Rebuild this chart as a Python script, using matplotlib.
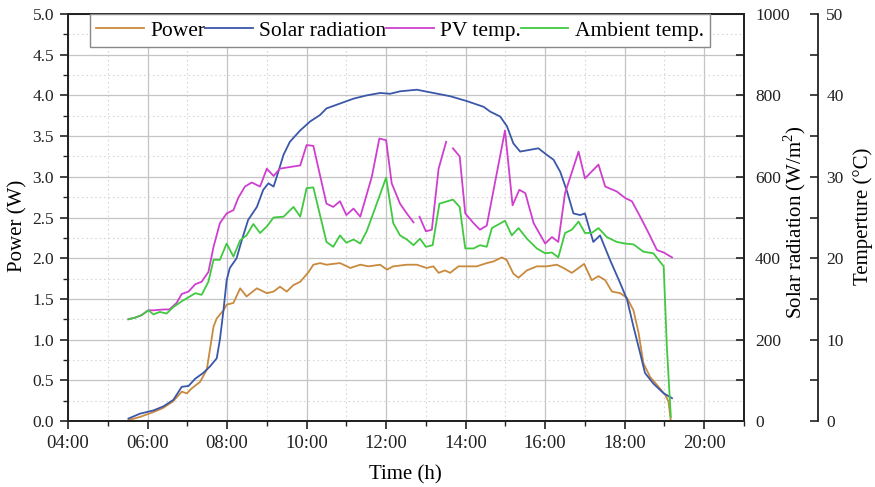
import matplotlib
matplotlib.use("Agg")
import matplotlib.pyplot as plt
import numpy as np
from matplotlib.ticker import MultipleLocator, FuncFormatter

plt.rcParams['font.family'] = ['Liberation Serif', 'DejaVu Serif']
plt.rcParams['mathtext.fontset'] = 'custom'
plt.rcParams['mathtext.rm'] = 'Liberation Serif'

# ---- data (time in decimal hours) ----
power_t = [5.52, 5.81, 6.15, 6.39, 6.64, 6.86, 6.99, 7.11, 7.32, 7.49, 7.66, 7.74, 7.91, 7.99,
           8.16, 8.33, 8.49, 8.75, 9.00, 9.17, 9.33, 9.50, 9.67, 9.84, 10.05, 10.17, 10.34,
           10.50, 10.84, 11.10, 11.35, 11.56, 11.85, 12.02, 12.18, 12.52, 12.77, 13.02, 13.19,
           13.32, 13.48, 13.61, 13.82, 14.03, 14.28, 14.53, 14.70, 14.91, 15.03, 15.20, 15.33,
           15.54, 15.79, 16.04, 16.29, 16.46, 16.67, 16.84, 16.98, 17.17, 17.34, 17.51, 17.68,
           17.89, 18.06, 18.22, 18.35, 18.47, 18.64, 18.85, 19.02, 19.10, 19.16]
power_w = [0.01, 0.05, 0.11, 0.16, 0.24, 0.36, 0.34, 0.40, 0.48, 0.63, 1.16, 1.26, 1.36, 1.43,
           1.45, 1.63, 1.53, 1.63, 1.57, 1.59, 1.65, 1.59, 1.67, 1.71, 1.83, 1.92, 1.94,
           1.92, 1.94, 1.88, 1.92, 1.90, 1.92, 1.86, 1.90, 1.92, 1.92, 1.88, 1.90,
           1.82, 1.85, 1.82, 1.90, 1.90, 1.90, 1.94, 1.96, 2.01, 1.98, 1.81, 1.76,
           1.85, 1.90, 1.90, 1.92, 1.88, 1.82, 1.88, 1.93, 1.73, 1.78, 1.73, 1.59,
           1.57, 1.51, 1.36, 1.08, 0.71, 0.54, 0.42, 0.32, 0.24, 0.00]

solar_t = [5.52, 5.81, 6.15, 6.40, 6.65, 6.86, 7.03, 7.20, 7.40, 7.57, 7.74, 7.82, 7.91, 7.99,
           8.07, 8.24, 8.37, 8.53, 8.75, 8.91, 9.04, 9.17, 9.25, 9.42, 9.58, 9.84, 10.09,
           10.34, 10.50, 10.84, 11.18, 11.51, 11.85, 12.10, 12.35, 12.77, 13.19, 13.61, 14.03,
           14.45, 14.62, 14.87, 15.04, 15.20, 15.37, 15.60, 15.83, 16.04, 16.21, 16.38, 16.55,
           16.71, 16.88, 17.00, 17.21, 17.38, 17.63, 17.89, 18.06, 18.22, 18.39, 18.51, 18.72,
           18.98, 19.19]
solar_wm2 = [6, 18, 26, 36, 52, 84, 86, 104, 118, 134, 154, 200, 272, 346,
             376, 400, 444, 494, 526, 568, 584, 576, 600, 654, 686, 714, 736,
             752, 768, 780, 792, 800, 806, 804, 810, 814, 806, 798, 786,
             772, 760, 748, 724, 682, 662, 666, 670, 654, 642, 612, 564,
             510, 506, 510, 440, 456, 396, 338, 298, 232, 166, 118, 92,
             68, 56]

pv_t = [5.52, 5.69, 5.85, 6.02, 6.15, 6.40, 6.55, 6.73, 6.86, 7.03, 7.20, 7.36, 7.53, 7.66,
        7.82, 7.99, 8.16, 8.28, 8.45, 8.62, 8.83, 9.00, 9.17, 9.33, 9.58, 9.84, 10.00,
        10.17, 10.50, 10.67, 10.84, 11.00, 11.18, 11.35, 11.64, 11.83, 12.00, 12.14, 12.35,
        12.52, 12.69, 12.76, 12.84, 13.00, 13.15, 13.32, 13.51, 13.60, 13.68, 13.85, 13.99,
        14.20, 14.36, 14.53, 14.99, 15.18, 15.35, 15.50, 15.71, 16.00, 16.17, 16.33, 16.50,
        16.84, 17.00, 17.34, 17.51, 17.80, 18.01, 18.18, 18.39, 18.60, 18.81, 18.98, 19.19]
pv_c = [12.5, 12.7, 13.0, 13.6, 13.6, 13.7, 13.7, 14.5, 15.6, 15.9, 16.8, 17.1, 18.3, 21.4,
        24.3, 25.5, 25.9, 27.4, 28.8, 29.3, 28.8, 31.0, 30.1, 31.0, 31.2, 31.4, 33.9,
        33.8, 26.7, 26.3, 27.0, 25.3, 26.1, 25.1, 30.0, 34.7, 34.5, 29.2, 26.7,
        25.5, 24.4, np.nan, 25.1, 23.3, 23.5, 31.0, 34.3, np.nan, 33.5, 32.5, 25.5,
        24.3, 23.5, 24.0, 35.7, 26.5, 28.4, 28.0, 24.3, 21.8, 22.6, 22.0, 28.0,
        33.1, 29.8, 31.5, 28.8, 28.2, 27.4, 27.0, 25.1, 23.1, 21.0, 20.7, 20.1]

amb_t = [5.52, 5.69, 5.85, 6.02, 6.15, 6.31, 6.48, 6.65, 6.86, 7.03, 7.20, 7.36, 7.53, 7.66,
         7.82, 7.99, 8.16, 8.33, 8.49, 8.66, 8.83, 9.00, 9.17, 9.42, 9.67, 9.84, 10.00,
         10.17, 10.50, 10.67, 10.84, 11.00, 11.18, 11.35, 11.51, 11.72, 12.00, 12.18, 12.35,
         12.52, 12.69, 12.85, 13.00, 13.17, 13.34, 13.68, 13.85, 13.99, 14.20, 14.36, 14.53,
         14.66, 14.99, 15.16, 15.33, 15.54, 15.79, 16.00, 16.17, 16.33, 16.50, 16.67, 16.84,
         17.00, 17.17, 17.34, 17.55, 17.80, 18.01, 18.22, 18.47, 18.72, 18.98, 19.06, 19.16]
amb_c = [12.5, 12.7, 13.0, 13.6, 13.1, 13.4, 13.2, 14.0, 14.7, 15.2, 15.7, 15.5, 17.1, 19.8,
         19.8, 21.8, 20.2, 22.2, 22.8, 24.2, 23.1, 23.9, 25.0, 25.1, 26.3, 25.1, 28.6,
         28.7, 22.0, 21.4, 22.8, 21.9, 22.3, 21.8, 23.3, 26.1, 29.9, 24.3, 22.8,
         22.3, 21.6, 22.4, 21.4, 21.6, 26.7, 27.2, 26.3, 21.2, 21.2, 21.6, 21.4,
         23.7, 24.6, 22.8, 23.7, 22.4, 21.2, 20.6, 20.7, 20.1, 23.1, 23.5, 24.5,
         23.1, 23.1, 23.7, 22.6, 22.0, 21.8, 21.7, 20.8, 20.6, 19.0, 9.1, 0.5]

x_ticks = [4, 6, 8, 10, 12, 14, 16, 18, 20]

C_POWER = '#C98A3E'
C_SOLAR = '#3B57A9'
C_PV = '#CF3FCF'
C_AMB = '#40C940'

fig = plt.figure(figsize=(8.75, 4.87), dpi=100)
ax = fig.add_axes([68 / 875, 1 - 421 / 487, 676 / 875, 407 / 487])
ax2 = ax.twinx()
ax3 = ax.twinx()
ax3.spines['right'].set_position(('axes', (818 - 68) / 676))

lw = 1.3
l1, = ax.plot(power_t, power_w, color=C_POWER, lw=lw, label='Power')
l2, = ax2.plot(solar_t, solar_wm2, color=C_SOLAR, lw=lw, label='Solar radiation')
l3, = ax3.plot(pv_t, pv_c, color=C_PV, lw=lw, label='PV temp.')
l4, = ax3.plot(amb_t, amb_c, color=C_AMB, lw=lw, label='Ambient temp.')

ax.set_xlim(4, 21)
ax.set_ylim(0, 5)
ax2.set_ylim(0, 1000)
ax3.set_ylim(0, 50)

ax.set_xticks(x_ticks)
ax.xaxis.set_major_formatter(FuncFormatter(lambda v, p: f"{int(v):02d}:00"))
ax.xaxis.set_minor_locator(MultipleLocator(1))
ax.yaxis.set_major_locator(MultipleLocator(0.5))
ax.yaxis.set_minor_locator(MultipleLocator(0.25))
ax.yaxis.set_major_formatter(FuncFormatter(lambda v, p: f"{v:.1f}"))

ax2.yaxis.set_major_locator(MultipleLocator(200))
ax2.yaxis.set_minor_locator(MultipleLocator(100))
ax3.yaxis.set_major_locator(MultipleLocator(10))
ax3.yaxis.set_minor_locator(MultipleLocator(5))

# grid: solid at major ticks, dotted at minor ticks
ax.grid(which='major', color='#c4c4c4', lw=0.9, ls='-')
ax.grid(which='minor', color='#d8d8d8', lw=0.8, ls=(0, (1.5, 2.5)))
ax.set_axisbelow(True)

spine_c = '#222222'
for a in (ax, ax2, ax3):
    for s in a.spines.values():
        s.set_linewidth(1.3)
        s.set_color(spine_c)
ax.tick_params(axis='x', which='major', labelsize=13.5, length=6, width=1.2,
               direction='out', pad=4, colors=spine_c)
ax.tick_params(axis='y', which='major', labelsize=12.5, length=6, width=1.2,
               direction='out', pad=4, colors=spine_c)
ax.tick_params(axis='both', which='minor', length=3.5, width=1.0, direction='out', colors=spine_c)
ax.tick_params(axis='y', which='both', right=False)
for a, pad in ((ax2, 8), (ax3, 6)):
    a.tick_params(axis='y', which='major', labelsize=12.5, length=6, width=1.2,
                  direction='in', pad=pad, colors=spine_c)
    a.tick_params(axis='y', which='minor', length=6, width=1.2, direction='in', colors=spine_c)
ax3.spines['left'].set_visible(False)
ax3.spines['top'].set_visible(False)
ax3.spines['bottom'].set_visible(False)

lab_fs = 15
fig.text(405 / 875, 1 - 475 / 487, 'Time (h)', ha='center', va='center', fontsize=lab_fs)
fig.text(18 / 875, 1 - 226 / 487, 'Power (W)', ha='center', va='center', rotation=90, fontsize=lab_fs)
fig.text(795 / 875, 1 - 222 / 487, 'Solar radiation (W/m$^{2}$)', ha='center', va='center',
         rotation=90, fontsize=lab_fs)
fig.text(863 / 875, 1 - 216 / 487, 'Temperture (°C)', ha='center', va='center',
         rotation=90, fontsize=lab_fs)

leg = ax3.legend(handles=[l1, l2, l3, l4], loc='upper left',
                 bbox_to_anchor=((90 - 68) / 676, 1.0), ncol=4, fontsize=15.5,
                 frameon=True, fancybox=False, edgecolor='#888888', framealpha=1,
                 handlelength=2.2, handletextpad=0.3, columnspacing=0.0,
                 borderpad=0.3, borderaxespad=0.0)
leg.get_frame().set_linewidth(1.0)

fig.savefig('out.png', dpi=100)
